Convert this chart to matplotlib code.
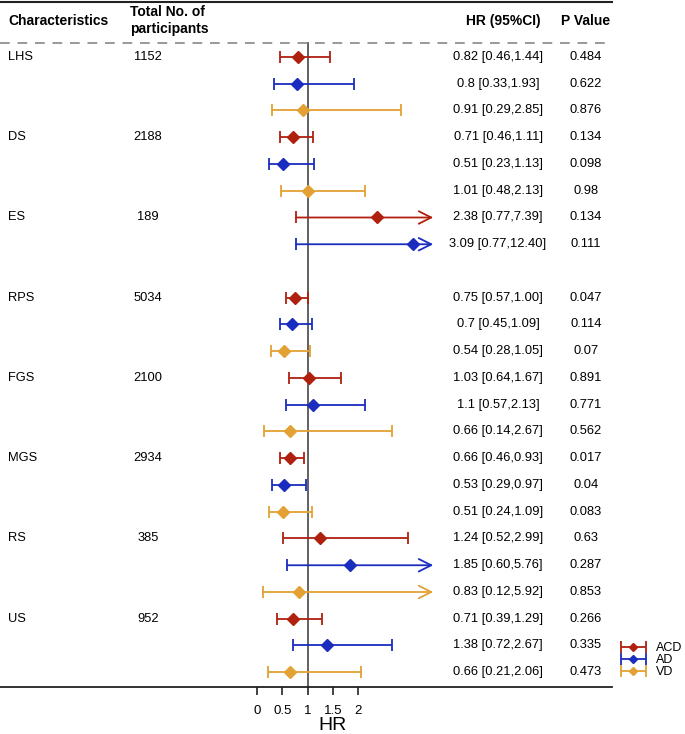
import numpy as np
import matplotlib
matplotlib.use("Agg")
import matplotlib.pyplot as plt
import matplotlib.transforms as mtransforms
from matplotlib.container import ErrorbarContainer
from matplotlib.legend_handler import HandlerErrorbar

plt.rcParams["font.family"] = ["Liberation Sans", "DejaVu Sans"]

# groups and participants
groups = ["LHS", "DS", "ES", "RPS", "FGS", "MGS", "RS", "US"]
n_part = ["1152", "2188", "189", "5034", "2100", "2934", "385", "952"]
series = ["ACD", "AD", "VD"]

# hazard ratios with ci none means no estimate
acd_hr = [0.82, 0.71, 2.38, 0.75, 1.03, 0.66, 1.24, 0.71]
acd_lo = [0.46, 0.46, 0.77, 0.57, 0.64, 0.46, 0.52, 0.39]
acd_hi = [1.44, 1.11, 7.39, 1.00, 1.67, 0.93, 2.99, 1.29]
acd_txt = ["0.82 [0.46,1.44]", "0.71 [0.46,1.11]", "2.38 [0.77,7.39]", "0.75 [0.57,1.00]",
           "1.03 [0.64,1.67]", "0.66 [0.46,0.93]", "1.24 [0.52,2.99]", "0.71 [0.39,1.29]"]
acd_p = ["0.484", "0.134", "0.134", "0.047", "0.891", "0.017", "0.63", "0.266"]

ad_hr = [0.8, 0.51, 3.09, 0.7, 1.1, 0.53, 1.85, 1.38]
ad_lo = [0.33, 0.23, 0.77, 0.45, 0.57, 0.29, 0.60, 0.72]
ad_hi = [1.93, 1.13, 12.40, 1.09, 2.13, 0.97, 5.76, 2.67]
ad_txt = ["0.8 [0.33,1.93]", "0.51 [0.23,1.13]", "3.09 [0.77,12.40]", "0.7 [0.45,1.09]",
          "1.1 [0.57,2.13]", "0.53 [0.29,0.97]", "1.85 [0.60,5.76]", "1.38 [0.72,2.67]"]
ad_p = ["0.622", "0.098", "0.111", "0.114", "0.771", "0.04", "0.287", "0.335"]

vd_hr = [0.91, 1.01, None, 0.54, 0.66, 0.51, 0.83, 0.66]
vd_lo = [0.29, 0.48, None, 0.28, 0.14, 0.24, 0.12, 0.21]
vd_hi = [2.85, 2.13, None, 1.05, 2.67, 1.09, 5.92, 2.06]
vd_txt = ["0.91 [0.29,2.85]", "1.01 [0.48,2.13]", "", "0.54 [0.28,1.05]",
          "0.66 [0.14,2.67]", "0.51 [0.24,1.09]", "0.83 [0.12,5.92]", "0.66 [0.21,2.06]"]
vd_p = ["0.876", "0.98", "", "0.07", "0.562", "0.083", "0.853", "0.473"]

xticks = [0, 0.5, 1, 1.5, 2]
REF = 1.0
CLIP = 3.49  # arrow tip where the ci runs off the panel

colors = ["#b0200f", "#1a2dbf", "#e3a033"]
data = [(acd_hr, acd_lo, acd_hi, acd_txt, acd_p),
        (ad_hr, ad_lo, ad_hi, ad_txt, ad_p),
        (vd_hr, vd_lo, vd_hi, vd_txt, vd_p)]

fig = plt.figure(figsize=(6.85, 7.34), dpi=100)
ax = fig.add_axes([0, 47 / 734, 612 / 685, 685 / 734])

row_px = 26.75
ax.set_xlim(-257 / 50.5, 355 / 50.5)
ax.set_ylim((687 - 57) / row_px, (2 - 57) / row_px)

for s in ["left", "right"]:
    ax.spines[s].set_visible(False)
ax.spines["top"].set_linewidth(1.5)
ax.spines["bottom"].set_linewidth(1.3)
ax.spines["top"].set_color("#222222")
ax.spines["bottom"].set_color("#222222")
ax.set_yticks([])
ax.set_xticks(xticks)
ax.set_xticklabels([f"{t:g}" for t in xticks], fontsize=9.5)
ax.tick_params(axis="x", length=6, width=1.2, pad=7, color="#222222")

# text column transform x in axes fraction y in data
tr = mtransforms.blended_transform_factory(ax.transAxes, ax.transData)
W = 612.0

head_y = (21 - 57) / row_px
dash_y = (43 - 57) / row_px
ax.text(8 / W, head_y, "Characteristics", transform=tr, ha="left", va="center",
        fontsize=10, fontweight="bold")
ax.text(130 / W, (20.5 - 57) / row_px, "Total No. of\nparticipants", transform=tr, ha="left",
        va="center", fontsize=10, fontweight="bold", linespacing=1.35)
ax.text(503 / W, head_y, "HR (95%CI)", transform=tr, ha="center", va="center",
        fontsize=10, fontweight="bold")
ax.text(586 / W, head_y, "P Value", transform=tr, ha="center", va="center",
        fontsize=10, fontweight="bold")
ax.axhline(dash_y, color="#999999", lw=1.4, ls=(0, (5, 4)))

ylo = ax.get_ylim()[0]
ax.axvline(REF, ymin=0, ymax=(ylo - dash_y) / (ylo - ax.get_ylim()[1]),
           color="#555555", lw=1.3, zorder=1)

for g, name in enumerate(groups):
    y0 = g * len(series)
    ax.text(8 / W, y0, name, transform=tr, ha="left", va="center", fontsize=9.3)
    ax.text(148 / W, y0, n_part[g], transform=tr, ha="center", va="center", fontsize=9.3)

for s, (hr, lo, hi, txt, pv) in enumerate(data):
    c = colors[s]
    ys, xs, el, eh = [], [], [], []
    for g in range(len(groups)):
        y = g * len(series) + s
        if hr[g] is None:
            continue
        ax.text(498 / W, y, txt[g], transform=tr, ha="center", va="center", fontsize=9.3)
        ax.text(586 / W, y, pv[g], transform=tr, ha="center", va="center", fontsize=9.3)
        if hi[g] > CLIP:
            ax.annotate("", xy=(CLIP, y), xytext=(lo[g], y),
                        arrowprops=dict(arrowstyle="->,head_length=0.9,head_width=0.45",
                                        color=c, lw=1.3, shrinkA=0, shrinkB=0,
                                        mutation_scale=10))
            ax.plot(lo[g], y, marker="|", ms=8, mew=1.3, color=c, zorder=3)
            ax.plot(hr[g], y, marker="D", ms=6, color=c, zorder=4, ls="none")
        else:
            ys.append(y)
            xs.append(hr[g])
            el.append(hr[g] - lo[g])
            eh.append(hi[g] - hr[g])
    ax.errorbar(xs, ys, xerr=[el, eh], fmt="D", ms=6, color=c, ecolor=c,
                elinewidth=1.3, capsize=4, capthick=1.3, label=series[s], zorder=3)

fig.text((257 + 1.5 * 50.5) / 685, 1 - 725 / 734, "HR", ha="center", va="center", fontsize=14)

fig.legend(loc="upper left", bbox_to_anchor=(620 / 685, 1 - 642 / 734), frameon=False,
           fontsize=9, handlelength=2.1, handletextpad=0.8, labelspacing=0.0,
           borderpad=0, borderaxespad=0, markerscale=0.75,
           handler_map={ErrorbarContainer: HandlerErrorbar(xerr_size=1.0)})

fig.savefig("out.png", dpi=100)
